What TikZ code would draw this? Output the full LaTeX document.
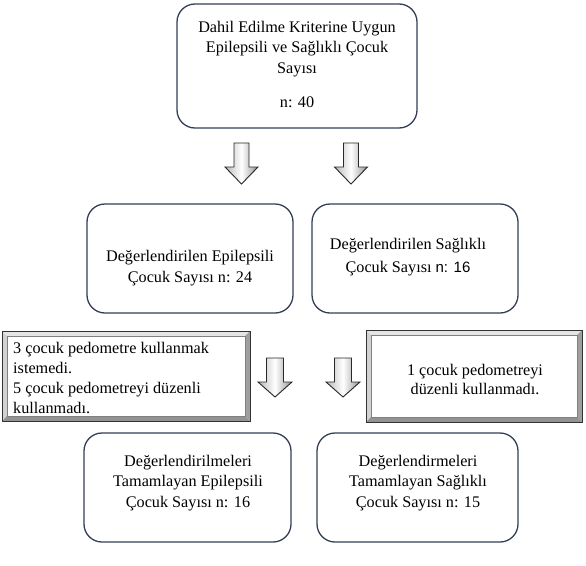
\documentclass[tikz,border=0pt]{standalone}
\usepackage{fontspec}
\setmainfont{Liberation Serif}
\newfontfamily\arialfont{Liberation Sans}
\definecolor{boxline}{RGB}{52,62,84}
\definecolor{arrowline}{RGB}{40,40,40}
\tikzset{
  roundbox/.style={draw=boxline, line width=1.3pt, rounded corners=18pt},
  txt/.style={inner sep=0pt, align=center, font=\fontsize{16.2}{20.5}\selectfont},
  txtl/.style={inner sep=0pt, align=left, font=\fontsize{16.2}{20}\selectfont},
}
% block arrow: #1 = x centre, #2 = y top, #3 = half width, #4 = shaft half width, #5 = head start, #6 = tip
\newcommand{\myblockarrow}[6]{%
  \shade[left color=gray!55, right color=gray!85, middle color=white, draw=arrowline, line width=0.9pt, line join=miter]
    (#1-#4,#2) -- (#1+#4,#2) -- (#1+#4,#5) -- (#1+#3,#5) -- (#1,#6) -- (#1-#3,#5) -- (#1-#4,#5) -- cycle;}
% bevel box: #1 name, corners (#2,#3) (#4,#5)
\newcommand{\mybevelbox}[5]{%
  \fill[gray!20] (#2,#3) -- (#4,#3) -- (#4-5,#3+5) -- (#2+5,#3+5) -- cycle;
  \fill[gray!35] (#2,#3) -- (#2+5,#3+5) -- (#2+5,#5-5) -- (#2,#5) -- cycle;
  \fill[gray!75] (#4,#3) -- (#4,#5) -- (#4-5,#5-5) -- (#4-5,#3+5) -- cycle;
  \fill[gray!85] (#2,#5) -- (#4,#5) -- (#4-5,#5-5) -- (#2+5,#5-5) -- cycle;
  \node[draw=black!80, line width=0.7pt, inner sep=0pt, fill=none, minimum width=#4-#2, minimum height=#5-#3, anchor=north west] (#1) at (#2,#3) {};
  \draw[black!50, line width=0.3pt] (#2+5,#3+5) rectangle (#4-5,#5-5);}
\begin{document}
\begin{tikzpicture}[x=1pt, y=-1pt]
\useasboundingbox (0,0) rectangle (586,565);
% top box
\draw[roundbox] (177,4) rectangle (417,128);
\node[txt] (toptext) at (297,49) {Dahil Edilme Kriterine Uygun\\Epilepsili ve Sağlıklı Çocuk\\Sayısı};
\node[txt] (topn) at (297,102) {n: 40};
% arrows row 1
\myblockarrow{241.5}{143}{16.5}{7.5}{167}{184}
\myblockarrow{351}{143}{16.5}{7.5}{167}{184}
% row 2
\draw[roundbox] (87,204) rectangle (293,313);
\draw[roundbox] (312,204) rectangle (518,313);
\node[txt] (epi) at (190,268) {Değerlendirilen Epilepsili\\Çocuk Sayısı n: 24};
\node[txt] (sag) at (408,257) {Değerlendirilen Sağlıklı\\[3pt]Çocuk Sayısı {\arialfont\fontsize{15}{20}\selectfont n: 16}};
% row 3
\mybevelbox{excl}{2}{331}{250}{421}
\mybevelbox{exc2}{366}{330}{582}{422}
\node[txtl, anchor=west] (excltext) at (13,378) {3 çocuk pedometre kullanmak\\istemedi.\\5 çocuk pedometreyi düzenli\\kullanmadı.};
\node[txt, font=\fontsize{16.2}{19}\selectfont] (exc2text) at (475,379) {1 çocuk pedometreyi\\düzenli kullanmadı.};
\myblockarrow{275}{358}{17}{8.5}{382}{397}
\myblockarrow{343}{358}{17}{8.5}{382}{397}
% row 4
\draw[roundbox] (84,433) rectangle (291,542);
\draw[roundbox] (317,433) rectangle (518,542);
\node[txt] (fin1) at (188,483) {Değerlendirilmeleri\\Tamamlayan Epilepsili\\Çocuk Sayısı n: 16};
\node[txt] (fin2) at (418,483) {Değerlendirmeleri\\Tamamlayan Sağlıklı\\Çocuk Sayısı n: 15};
\end{tikzpicture}
\end{document}
